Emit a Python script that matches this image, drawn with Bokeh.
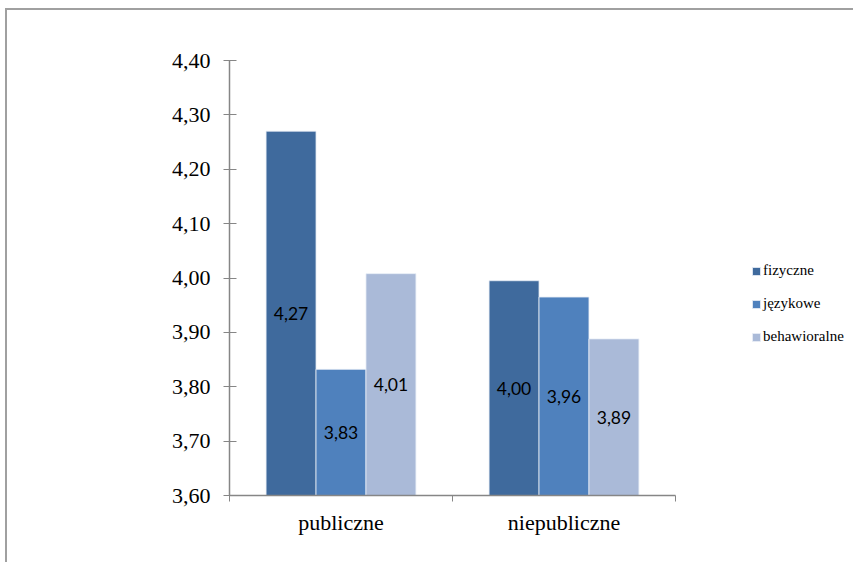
from bokeh.plotting import figure
from bokeh.models import ColumnDataSource, FixedTicker, Legend, LegendItem, Range1d
from bokeh.core.properties import value
from bokeh.embed import file_html
from bokeh.resources import INLINE

categories = ["publiczne", "niepubliczne"]
series = ["fizyczne", "językowe", "behawioralne"]
fizyczne = [4.27, 3.995]
jezykowe = [3.832, 3.965]
behawioralne = [4.008, 3.888]
labels = [["4,27", "4,00"], ["3,83", "3,96"], ["4,01", "3,89"]]
y_ticks = [3.60, 3.70, 3.80, 3.90, 4.00, 4.10, 4.20, 4.30, 4.40]
y_tick_labels = ["3,60", "3,70", "3,80", "3,90", "4,00", "4,10", "4,20", "4,30", "4,40"]
colors = ["#3F6A9D", "#4F81BD", "#AABAD8"]

values = [fizyczne, jezykowe, behawioralne]
y0, y1 = y_ticks[0], y_ticks[-1]

p = figure(width=840, height=552, output_backend="svg", toolbar_location=None,
           x_range=Range1d(0, len(categories)), y_range=Range1d(y0, y1),
           frame_width=446, frame_height=435,
           min_border_left=222, min_border_top=50, min_border_right=172, min_border_bottom=67)
p.styles = {"border-left": "2px solid #a0a0a0", "border-top": "2px solid #a0a0a0",
            "margin-left": "5px", "margin-top": "8px"}
p.outline_line_color = None
p.xgrid.visible = False
p.ygrid.visible = False
p.background_fill_color = "white"
p.border_fill_color = "white"

bw = 0.224
offsets = [-bw, 0.0, bw]
renderers = []
for i, (name, vals) in enumerate(zip(series, values)):
    xs = [k + 0.5 + offsets[i] for k in range(len(categories))]
    src = ColumnDataSource(dict(x=xs, top=vals, bottom=[y0] * len(vals),
                                ymid=[(y0 + v) / 2 for v in vals], lab=labels[i]))
    r = p.vbar(x="x", top="top", bottom="bottom", width=bw, source=src,
               fill_color=colors[i], line_color="#E8EEF6", line_width=0.8)
    renderers.append(r)
    p.text(x="x", y="ymid", text="lab", source=src, text_align="center",
           text_baseline="middle", text_font=value("Lato"), text_font_size="17.5px",
           text_color="#000000")

# x axis
xa = p.xaxis[0]
xa.ticker = FixedTicker(ticks=[k + 0.5 for k in range(len(categories))],
                        minor_ticks=list(range(len(categories) + 1)))
xa.major_label_overrides = {k + 0.5: c for k, c in enumerate(categories)}
xa.major_tick_line_color = None
xa.major_tick_out = 0
xa.major_tick_in = 0
xa.minor_tick_out = 6
xa.minor_tick_in = 0
xa.minor_tick_line_color = "#868686"
xa.axis_line_color = "#868686"
xa.axis_line_width = 1.5
xa.major_label_text_font = "Liberation Serif"
xa.major_label_text_font_size = "22px"
xa.major_label_text_color = "#000000"
xa.major_label_standoff = 8

# y axis
ya = p.yaxis[0]
ya.ticker = FixedTicker(ticks=y_ticks, minor_ticks=[])
ya.major_label_overrides = {t: l for t, l in zip(y_ticks, y_tick_labels)}
ya.major_tick_out = 6
ya.major_tick_in = 7
ya.major_tick_line_color = "#868686"
ya.minor_tick_line_color = None
ya.axis_line_color = "#868686"
ya.axis_line_width = 1.5
ya.major_label_text_font = "Liberation Serif"
ya.major_label_text_font_size = "22px"
ya.major_label_text_color = "#000000"
ya.major_label_standoff = 13

legend = Legend(items=[LegendItem(label=s, renderers=[r]) for s, r in zip(series, renderers)],
                location=(76, 150), orientation="vertical",
                label_text_font="Liberation Serif", label_text_font_size="15px",
                label_text_color="#000000", glyph_width=10, glyph_height=10,
                label_height=15, spacing=16, padding=0, margin=0, label_standoff=2,
                border_line_color=None, background_fill_alpha=0)
p.add_layout(legend, "right")

open("out.html", "w").write(file_html(p, INLINE))
